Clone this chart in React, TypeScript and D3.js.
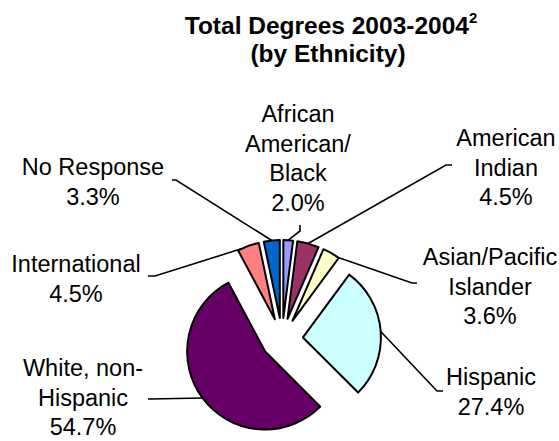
import React from "react";
import * as d3 from "d3";

const categories = [
  "African American/Black",
  "American Indian",
  "Asian/Pacific Islander",
  "Hispanic",
  "White, non-Hispanic",
  "International",
  "No Response",
];
const values = [2.0, 4.5, 3.6, 27.4, 54.7, 4.5, 3.3];
const colors = ["#9999FF", "#993366", "#FFFFCC", "#CCFFFF", "#660066", "#FF8080", "#0066CC"];
const labelLines = [
  ["African", "American/", "Black", "2.0%"],
  ["American", "Indian", "4.5%"],
  ["Asian/Pacific", "Islander", "3.6%"],
  ["Hispanic", "27.4%"],
  ["White, non-", "Hispanic", "54.7%"],
  ["International", "4.5%"],
  ["No Response", "3.3%"],
];
// label layout: center x, first baseline y
const labelPos = [
  [298, 122],
  [506, 146],
  [490, 265],
  [491, 385],
  [83, 376],
  [76, 272],
  [93, 175],
];
// leader: label-side start, elbow point, and fraction along arc where it ends
const leaderStart = [
  [300, 225],
  [452, 165],
  [417, 283],
  [443, 391],
  [148, 399],
  [148, 276],
  [172, 180],
];
const leaderElbow = [
  [300, 231],
  [446, 165],
  [412, 283],
  [437, 391],
  [150, 399],
  [155, 276],
  [176, 180],
];
const leaderFrac = [0.5, 0.5, 0.92, 0.5, 0.5, 0.16, 0.5];

const W = 559;
const H = 441;
const CX = 282;
const CY = 339;
const R = 78;
const EXPLODE = 21;
const LINE = 29.5;
const FONT = "'Liberation Sans', Arial, Helvetica, sans-serif";

export default function App() {
  const pie = d3
    .pie<number>()
    .sort(null)
    .value((v) => v)
    .startAngle(0)
    .endAngle(2 * Math.PI);
  const arcs = pie(values);
  const arc = d3.arc<d3.PieArcDatum<number>>().innerRadius(0).outerRadius(R);

  return (
    <svg
      width={W}
      height={H}
      viewBox={`0 0 ${W} ${H}`}
      style={{ position: "absolute", left: 0, top: 0, background: "#fff" }}
      fontFamily={FONT}
    >
      <rect x={0} y={0} width={W} height={H} fill="#fff" />
      <text x={331} y={34} textAnchor="middle" fontSize={24.5} fontWeight="bold" fill="#000">
        Total Degrees 2003-2004
        <tspan fontSize={15} dy={-11}>2</tspan>
      </text>
      <text x={328} y={62} textAnchor="middle" fontSize={24.5} fontWeight="bold" fill="#000">
        (by Ethnicity)
      </text>
      {arcs.map((a, i) => {
        const mid = (a.startAngle + a.endAngle) / 2;
        const ox = CX + EXPLODE * Math.sin(mid);
        const oy = CY - EXPLODE * Math.cos(mid);
        return (
          <path
            key={categories[i]}
            d={arc(a) || ""}
            transform={`translate(${ox},${oy})`}
            fill={colors[i]}
            stroke="#000"
            strokeWidth={2}
            strokeLinejoin="round"
          />
        );
      })}
      {arcs.map((a, i) => {
        const mid = (a.startAngle + a.endAngle) / 2;
        const ox = CX + EXPLODE * Math.sin(mid);
        const oy = CY - EXPLODE * Math.cos(mid);
        const ang = a.startAngle + (a.endAngle - a.startAngle) * leaderFrac[i];
        const ex = ox + R * Math.sin(ang);
        const ey = oy - R * Math.cos(ang);
        const path = d3.path();
        path.moveTo(leaderStart[i][0], leaderStart[i][1]);
        path.lineTo(leaderElbow[i][0], leaderElbow[i][1]);
        path.lineTo(ex, ey);
        return (
          <path
            key={"l" + i}
            d={path.toString()}
            fill="none"
            stroke="#000"
            strokeWidth={1.6}
          />
        );
      })}
      {labelLines.map((lines, i) => (
        <text
          key={"t" + i}
          x={labelPos[i][0]}
          y={labelPos[i][1]}
          textAnchor="middle"
          fontSize={23.5}
          fill="#000"
        >
          {lines.map((ln, j) => (
            <tspan key={j} x={labelPos[i][0]} y={labelPos[i][1] + j * LINE}>
              {ln}
            </tspan>
          ))}
        </text>
      ))}
    </svg>
  );
}
